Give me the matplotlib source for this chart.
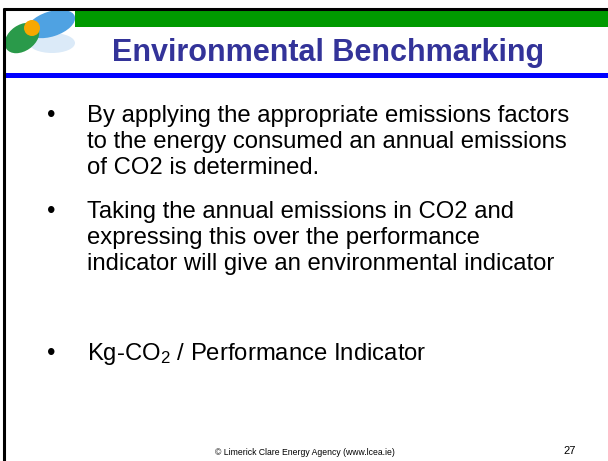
import matplotlib
matplotlib.use("Agg")
import matplotlib.pyplot as plt
from matplotlib.patches import Ellipse, Rectangle, Circle

title = "Environmental Benchmarking"
bullet1 = ["By applying the appropriate emissions factors",
           "to the energy consumed an annual emissions",
           "of CO2 is determined."]
bullet2 = ["Taking the annual emissions in CO2 and",
           "expressing this over the performance",
           "indicator will give an environmental indicator"]
bullet3 = [r"Kg-CO$_2$ / Performance Indicator"]
footer = "\u00a9 Limerick Clare Energy Agency (www.lcea.ie)"
page = "27"

plt.rcParams['font.family'] = ['Liberation Sans', 'DejaVu Sans']
plt.rcParams['mathtext.fontset'] = 'custom'
plt.rcParams['mathtext.rm'] = 'Liberation Sans'
plt.rcParams['mathtext.it'] = 'Liberation Sans'
plt.rcParams['mathtext.default'] = 'rm'

W, H = 608, 461
fig = plt.figure(figsize=(W / 100, H / 100), dpi=100)
ax = fig.add_axes([0, 0, 1, 1])
ax.set_xlim(0, W)
ax.set_ylim(H, 0)
ax.axis('off')

# frame lines
ax.plot([3, W], [9, 9], color='black', lw=2.2, solid_capstyle='butt')
ax.plot([4, 4], [8, H], color='black', lw=2.2, solid_capstyle='butt')

# green band
ax.add_patch(Rectangle((75, 10), W - 75, 17, color='#009a00', lw=0))
# blue rule
ax.add_patch(Rectangle((5, 73.5), W - 5, 4.5, color='#0000ff', lw=0))

# logo
ax.add_patch(Ellipse((52, 43), 46, 20, angle=0, color='#dbeaf8', lw=0))
ax.add_patch(Ellipse((51, 24), 50, 25, angle=-18, color='#4fa2e2', lw=0))
ax.add_patch(Ellipse((22, 38), 38, 26, angle=-35, color='#2a9a4a', lw=0))
ax.add_patch(Circle((32, 28), 8, color='#f7a800', lw=0))

# title
ax.text(328, 53, title, color='#333399', fontsize=22, fontweight='bold',
        ha='center', va='center')

# bullets
def bullet(lines, y0):
    ax.text(47, y0, "\u2022", fontsize=17.2, ha='left', va='center', color='black')
    for i, ln in enumerate(lines):
        ax.text(87, y0 + i * 26, ln, fontsize=17.2, ha='left', va='center', color='black')

bullet(bullet1, 116)
bullet(bullet2, 212)
bullet(bullet3, 354)

ax.text(305, 452, footer, fontsize=6.2, ha='center', va='center', color='black')
ax.text(570, 451, page, fontsize=8, ha='center', va='center', color='black')

fig.savefig("out.png", dpi=100)
